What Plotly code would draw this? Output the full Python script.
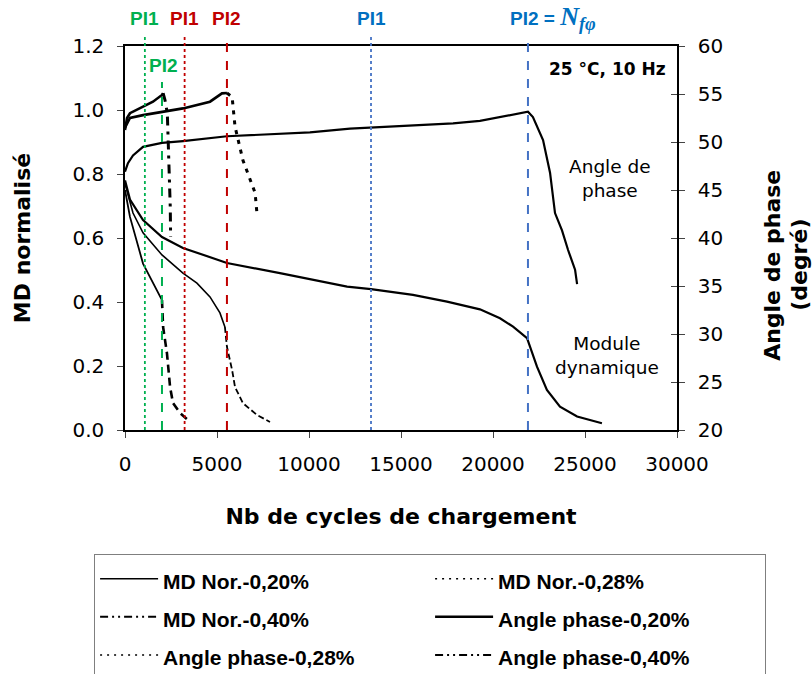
import plotly.graph_objects as go

# ---------------- data ----------------
# Normalised dynamic modulus (left axis)
md20_x = [0, 270, 980, 2010, 3150, 5540, 8420, 10220, 12070, 13370, 15650, 17500,
          19290, 20380, 21090, 21850, 22390, 22930, 23640, 24570, 25920]
md20_y = [0.78, 0.72, 0.656, 0.603, 0.569, 0.522, 0.49, 0.469, 0.448, 0.44, 0.422, 0.401,
          0.377, 0.349, 0.323, 0.287, 0.198, 0.125, 0.073, 0.042, 0.021]

md28_x = [0, 435, 980, 2010, 3150, 3910, 4620, 5160, 5430, 5540, 5820, 5980, 6410, 7170, 7880]
md28_y = [0.77, 0.678, 0.616, 0.547, 0.49, 0.459, 0.416, 0.366, 0.322, 0.26, 0.1875, 0.134,
          0.084, 0.047, 0.025]

md40_x = [0, 270, 980, 1520, 2010, 2070, 2280, 2390, 2450, 2610, 2990, 3420]
md40_y = [0.75, 0.666, 0.52, 0.459, 0.406, 0.322, 0.24, 0.178, 0.134, 0.084, 0.053, 0.031]

# Phase angle (right axis, degrees)
ang20_x = [0, 160, 435, 980, 2010, 3150, 5540, 8420, 10050, 12230, 15380, 17830, 19290,
           20760, 21900, 22170, 22720, 23100, 23370, 23750, 24080, 24460, 24570]
ang20_y = [46.9, 47.8, 48.6, 49.5, 49.9, 50.1, 50.6, 50.9, 51.0, 51.4, 51.7, 51.95, 52.2,
           52.7, 53.15, 52.6, 50.2, 46.8, 42.6, 40.8, 38.75, 36.7, 35.2]

ang28_x = [0, 270, 980, 2010, 3150, 4620, 5270, 5540, 5820, 5980, 6410, 7070, 7170]
ang28_y = [51.5, 52.5, 52.8, 53.1, 53.5, 54.2, 55.07, 55.1, 54.7, 51.6, 48.1, 44.7, 42.6]

ang40_x = [0, 110, 270, 980, 1520, 2010, 2070, 2170, 2300, 2340, 2390, 2420, 2440, 2460, 2480]
ang40_y = [51.25, 52.5, 53.0, 53.7, 54.2, 54.9, 55.1, 54.4, 53.0, 50.9, 48.8, 46.7, 45.3,
           43.2, 40.1]

# Inflection points (cycles)
pi_cycles = [1080, 2010, 3240, 5540, 13370, 21900]
pi_labels = ["PI1", "PI2", "PI1", "PI2", "PI1",
             'PI2 = <span style="font-family:Liberation Serif, serif;font-size:26px">'
             '<i>N</i><sub><i>fφ</i></sub></span>']

legend_names = ["MD Nor.-0,20%", "MD Nor.-0,28%", "MD Nor.-0,40%",
                "Angle phase-0,20%", "Angle phase-0,28%", "Angle phase-0,40%"]

x_ticks = [0, 5000, 10000, 15000, 20000, 25000, 30000]

# ---------------- figure ----------------
FONT = "DejaVu Sans, sans-serif"
ARIAL = "Liberation Sans, Arial, sans-serif"
GREEN, RED, BLUE_L, BLUE_T = "#00B050", "#C00000", "#4472C4", "#0070C0"

fig = go.Figure()


def add_split(xs, ys, brk, yaxis, w1, w2, dash2):
    fig.add_trace(go.Scatter(x=xs[:brk + 1], y=ys[:brk + 1], mode="lines", yaxis=yaxis,
                             line=dict(color="black", width=w1), showlegend=False,
                             hoverinfo="skip"))
    fig.add_trace(go.Scatter(x=xs[brk:], y=ys[brk:], mode="lines", yaxis=yaxis,
                             line=dict(color="black", width=w2, dash=dash2),
                             showlegend=False, hoverinfo="skip"))


# visible curves
fig.add_trace(go.Scatter(x=md20_x, y=md20_y, mode="lines", yaxis="y",
                         line=dict(color="black", width=2.2), showlegend=False))
add_split(md28_x, md28_y, 8, "y", 1.6, 1.8, "6px,3px")
add_split(md40_x, md40_y, 4, "y", 1.8, 2.6, "8px,5px")
fig.add_trace(go.Scatter(x=ang20_x, y=ang20_y, mode="lines", yaxis="y2",
                         line=dict(color="black", width=2.2), showlegend=False))
add_split(ang28_x, ang28_y, 7, "y2", 2.6, 3, "4px,6px")
add_split(ang40_x, ang40_y, 6, "y2", 2.6, 3, "9px,6px,3px,6px")
# empty trace so that the inner tick marks of the right axis are drawn
fig.add_trace(go.Scatter(x=[None], y=[None], yaxis="y3", showlegend=False,
                         hoverinfo="skip"))

# legend entries (styles as in the reference legend)
leg_styles = [dict(width=1.6), dict(width=1.5, dash="2px,5px"),
              dict(width=2, dash="8px,4px,2px,4px,2px,4px"),
              dict(width=2.5), dict(width=1.5, dash="2px,5px"),
              dict(width=2, dash="8px,4px,2px,4px,2px,4px")]
for name, st in zip(legend_names, leg_styles):
    fig.add_trace(go.Scatter(x=[None], y=[None], mode="lines", yaxis="y",
                             line=dict(color="black", **st),
                             name='<span style="font-size:21px">' + name + "</span>"))

# vertical lines for the inflection points
pi_styles = [(GREEN, "dot", 1.03), (GREEN, "dash", 0.906), (RED, "dot", 1.03),
             (RED, "dash", 1.03), (BLUE_L, "dot", 1.03), (BLUE_L, "dash", 1.03)]
for xv, (col, dsh, top) in zip(pi_cycles, pi_styles):
    fig.add_shape(type="line", xref="x", yref="paper", x0=xv, x1=xv, y0=0, y1=top,
                  line=dict(color=col, width=2 if dsh == "dash" else 1.8, dash=dsh))

pi_text_cols = [GREEN, GREEN, RED, RED, BLUE_T, BLUE_T]
for i, (xv, lab, col) in enumerate(zip(pi_cycles, pi_labels, pi_text_cols)):
    f = dict(family=ARIAL, size=19, color=col, weight="bold")
    if i == 1:
        fig.add_annotation(x=xv, y=0.95, xref="x", yref="paper", text=lab, showarrow=False,
                           font=f, xanchor="center", yanchor="middle", xshift=2)
    elif i == 5:
        fig.add_annotation(x=xv, y=1.072, xref="x", yref="paper", text=lab, showarrow=False,
                           font=f, xanchor="left", yanchor="middle", xshift=-20)
    else:
        fig.add_annotation(x=xv, y=1.072, xref="x", yref="paper", text=lab, showarrow=False,
                           font=f, xanchor="center", yanchor="middle")

# text annotations in the plot
fig.add_annotation(x=0.984, y=0.939, xref="paper", yref="paper", text="<b>25 °C, 10 Hz</b>",
                   showarrow=False, xanchor="right", yanchor="middle",
                   font=dict(family=FONT, size=17, color="black"))
fig.add_annotation(x=0.879, y=0.656, xref="paper", yref="paper", text="Angle de<br>phase",
                   showarrow=False, xanchor="center", yanchor="middle",
                   font=dict(family=FONT, size=18.5, color="black"))
fig.add_annotation(x=0.873, y=0.193, xref="paper", yref="paper", text="Module<br>dynamique",
                   showarrow=False, xanchor="center", yanchor="middle",
                   font=dict(family=FONT, size=18.5, color="black"))
# right axis title (two lines)
fig.add_annotation(x=1.1739, y=0.43, xref="paper", yref="paper",
                   text="<b>Angle de phase</b>", textangle=-90,
                   showarrow=False, xanchor="center", yanchor="middle",
                   font=dict(family=FONT, size=22, color="black"))
fig.add_annotation(x=1.2228, y=0.43, xref="paper", yref="paper",
                   text="<b>(degré)</b>", textangle=-90,
                   showarrow=False, xanchor="center", yanchor="middle",
                   font=dict(family=FONT, size=22, color="black"))

fig.update_layout(
    width=812, height=674,
    margin=dict(l=125, r=135, t=46, b=244, autoexpand=False),
    paper_bgcolor="white", plot_bgcolor="white",
    font=dict(family=FONT, size=20, color="black"),
    xaxis=dict(range=[0, 30000], tickvals=x_ticks, ticktext=[str(v) for v in x_ticks],
               ticks="outside", ticklen=6, automargin=False,
               showline=True, linecolor="black", linewidth=1.5, mirror=True,
               showgrid=False, zeroline=False, tickfont=dict(size=20),
               ticklabelstandoff=9,
               title=dict(text="<b>Nb de cycles de chargement</b>",
                          font=dict(size=22), standoff=34)),
    yaxis=dict(range=[0, 1.2], dtick=0.2, tickformat=".1f", ticks="outside", ticklen=6,
               showline=True, linecolor="black", linewidth=1.5, showgrid=False,
               zeroline=False, tickfont=dict(size=20), ticklabelstandoff=9,
               automargin=False,
               title=dict(text="<b>MD normalisé</b>", font=dict(size=22), standoff=36)),
    yaxis2=dict(range=[20, 60], dtick=5, overlaying="y", side="right", ticks="outside",
                ticklen=6, showline=True, linecolor="black", linewidth=1.5,
                showgrid=False, zeroline=False, tickfont=dict(size=20),
                ticklabelstandoff=9, automargin=False),
    yaxis3=dict(range=[20, 60], dtick=5, overlaying="y", side="right", ticks="inside",
                ticklen=6, showline=False, showgrid=False, zeroline=False,
                showticklabels=False, automargin=False),
    legend=dict(orientation="h", x=-0.056, y=-0.322, xanchor="left", yanchor="top",
                bordercolor="#7f7f7f", borderwidth=1, bgcolor="white",
                font=dict(family=ARIAL, size=27, color="black", weight="bold"),
                itemwidth=58,
                entrywidth=262, entrywidthmode="pixels", traceorder="normal"),
)

fig.write_html("out.html", config={"displayModeBar": False},
               post_script="document.body.style.margin='0px';")
